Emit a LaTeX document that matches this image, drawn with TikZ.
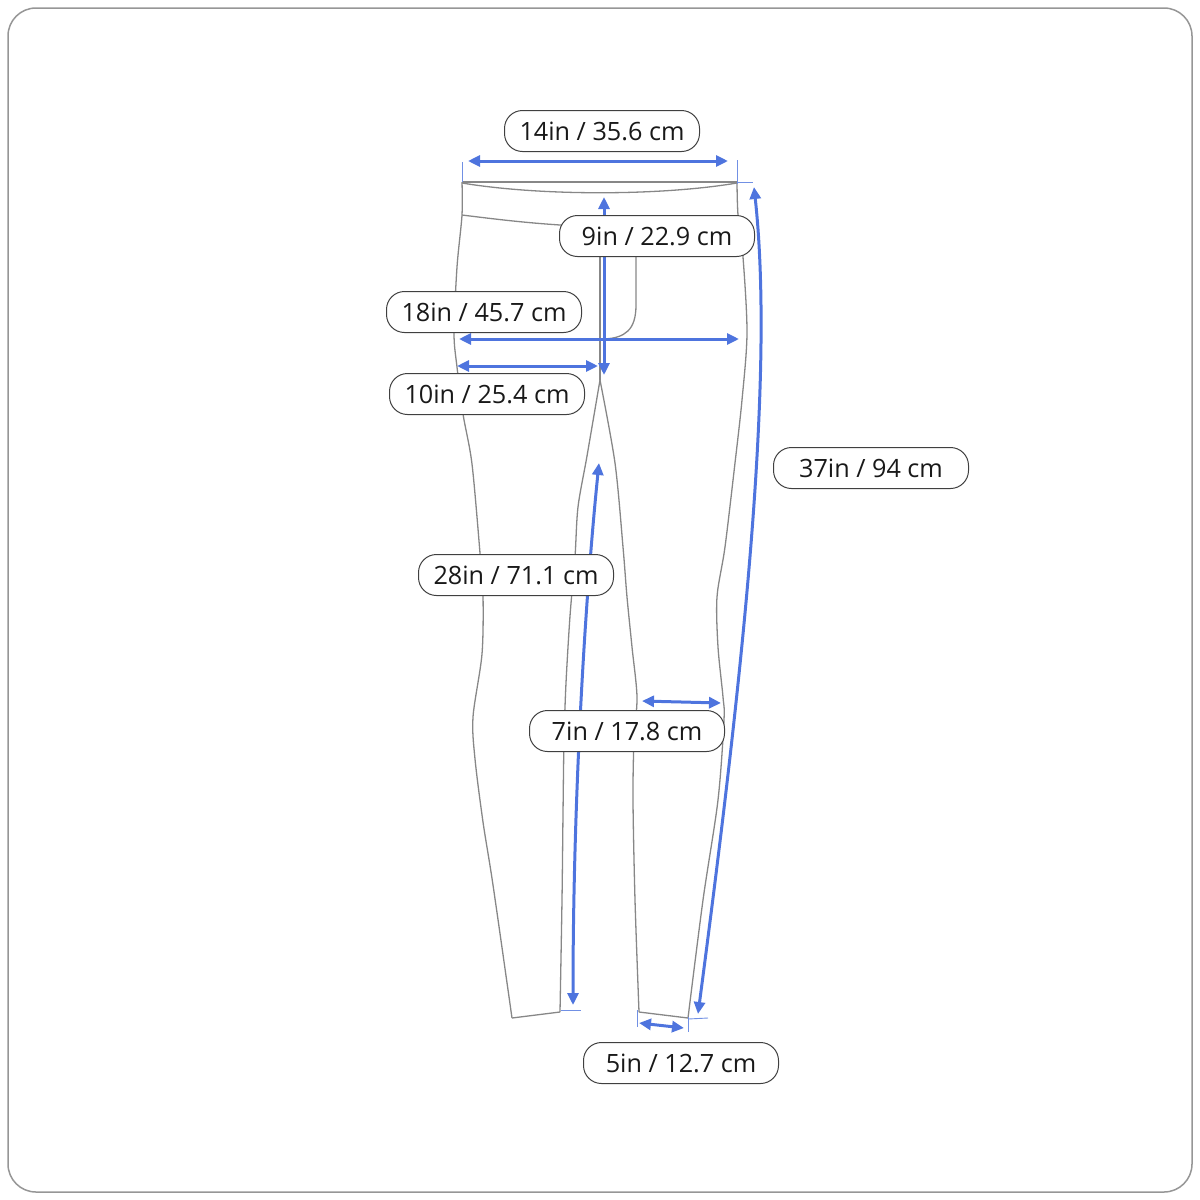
\documentclass[tikz,border=0pt]{standalone}
\usepackage{fontspec}
\setmainfont{Open Sans}
\usepackage{tikz}
\usetikzlibrary{arrows.meta}
\definecolor{dimblue}{RGB}{78,116,222}
\definecolor{seam}{RGB}{135,135,135}
\definecolor{frame}{RGB}{150,150,150}
\newcommand{\sizelabel}[4]{\node[lbl] (#1) at (#2,#3) {#4};}
\newcommand{\drawseam}{\draw[seam, line width=0.65pt]}
\newcommand{\drawdim}{\draw[dimblue, line width=1.5pt, {Triangle[length=6pt,width=5.5pt]}-{Triangle[length=6pt,width=5.5pt]}]}
\newcommand{\drawtick}{\draw[dimblue!80, line width=0.45pt]}
\tikzset{
  lbl/.style={draw=black!75, fill=white, rounded corners=9pt, line width=0.5pt,
    minimum width=97.5pt, minimum height=20.5pt, inner sep=0pt,
    text=black!90, font=\fontsize{12.6}{15}\selectfont}
}

\begin{document}
\begin{tikzpicture}[x=0.5pt,y=-0.5pt]
\useasboundingbox (0,0) rectangle (1200,1200);
\draw[frame, line width=0.75pt, rounded corners=14pt] (8,8) rectangle (1192,1192);
% waistband
\drawseam (462,182)--(737,182);
\drawseam (462,183) .. controls (540,196) and (660,196) .. (737,183);
\drawseam (462,215) .. controls (510,221) and (545,225) .. (600,227) -- (741,232);
% left leg
\drawseam plot[smooth] coordinates {(462,182) (462,215) (457,267) (454,333) (457,367) (463,414) (472,464) (480,553) (483,595) (482,654) (473,717) (475,759) (483,822) (493,885) (512,1018)};
\drawseam (512,1018)--(560,1012);
\drawseam plot[smooth] coordinates {(560,1012) (562,900) (563,814) (564,740) (566,683) (570,616) (575,557) (578,507) (587,456) (600,380)};
% right leg
\drawseam plot[smooth] coordinates {(600,380) (615,463) (623,547) (627,597) (632,647) (637,697) (634,740) (633,800) (635,900) (639,1012)};
\drawseam (639,1012)--(688,1018);
\drawseam plot[smooth] coordinates {(688,1018) (703,900) (718,800) (724,720) (723,697) (718,647) (717,597) (725,547) (735,463) (742,400) (747,333) (743,257) (738,215) (737,182)};
% fly and centre seam
\drawseam (636,256)--(636,305) .. controls (636,330) and (625,338) .. (604,339);
\drawseam (600,227)--(600,380);
% ticks
\drawtick (462,162)--(462,182);
\drawtick (737,160)--(737,184);
\drawtick (737,182)--(753,182);
\drawtick (561,1010)--(581,1010);
\drawtick (688,1019)--(708,1018);
\drawtick (637,1010)--(637,1027);
\drawtick (688,1017)--(688,1032);
% measures
\drawdim (468,161) -- (728,161);
\drawdim (604,197) -- (604,375);
\drawdim (459,339) -- (739,339);
\drawdim (457,366) -- (598,366);
\drawdim (573,1005) .. controls (573,800) and (585,600) .. (599,463);
\drawdim (642,701) -- (721,703);
\drawdim (639,1023) -- (684,1028);
\drawdim (698,1014) .. controls (742,680) and (775,380) .. (754,187);
% labels
\sizelabel{waist}{602}{131}{14in / 35.6 cm}
\sizelabel{rise}{657}{236}{9in / 22.9 cm}
\sizelabel{hip}{484}{312}{18in / 45.7 cm}
\sizelabel{thigh}{487}{394}{10in / 25.4 cm}
\sizelabel{outseam}{871}{468}{37in / 94 cm}
\sizelabel{inseam}{516}{575}{28in / 71.1 cm}
\sizelabel{knee}{627}{731}{7in / 17.8 cm}
\sizelabel{hem}{681}{1063}{5in / 12.7 cm}
\end{tikzpicture}
\end{document}
